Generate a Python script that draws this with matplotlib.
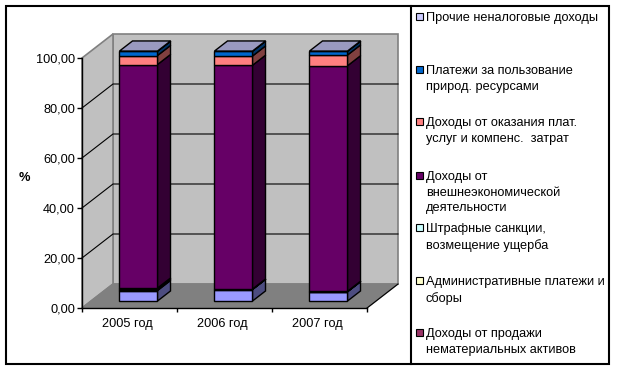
import matplotlib
matplotlib.use("Agg")
import matplotlib.pyplot as plt
from matplotlib.patches import Polygon, Rectangle
from matplotlib.ticker import FuncFormatter
from matplotlib.transforms import ScaledTranslation

plt.rcParams['font.family'] = ['Liberation Sans', 'DejaVu Sans']

W, H = 619, 369
FS = 12.7 * 72 / 100

years = ['2005 год', '2006 год', '2007 год']

# stacked series, bottom to top (% of total)
other_income = [4.2, 4.6, 3.7]
intangibles = [0.4, 0.1, 0.1]
admin_fees = [0.3, 0.05, 0.05]
fines = [0.3, 0.05, 0.05]
foreign_trade = [89.4, 89.5, 90.2]
services = [3.6, 3.7, 4.3]
natural_res = [1.7, 1.9, 1.5]
other_nontax = [0.1, 0.1, 0.1]

series = [other_income, intangibles, admin_fees, fines,
          foreign_trade, services, natural_res, other_nontax]
front_colors = ['#9999FF', '#993366', '#FFFFCC', '#CCFFFF',
                '#660066', '#FF8080', '#0066CC', '#CCCCFF']
side_colors = ['#4D4D80', '#4D1A33', '#808066', '#668080',
               '#330033', '#804040', '#003366', '#666680']
top_color = '#9999BF'

legend_labels = ['Прочие неналоговые доходы',
                 'Платежи за пользование\nприрод. ресурсами',
                 'Доходы от оказания плат.\nуслуг и компенс.  затрат',
                 'Доходы от\nвнешнеэкономической\nдеятельности',
                 'Штрафные санкции,\nвозмещение ущерба',
                 'Административные платежи и\nсборы',
                 'Доходы от продажи\nнематериальных активов']
legend_colors = ['#CCCCFF', '#0066CC', '#FF8080', '#660066',
                 '#CCFFFF', '#FFFFCC', '#993366']
legend_y = [17, 70, 122, 176, 228, 281, 333]

fig = plt.figure(figsize=(W / 100, H / 100), dpi=100, facecolor='white')

def fig_rect(x0, y0, x1, y1):
    return [x0 / W, 1 - y1 / H, (x1 - x0) / W, (y1 - y0) / H]

# main plot: front plane of the 3D box
ax = fig.add_axes(fig_rect(82, 58, 367, 308))
ax.set_xlim(0, 3)
ax.set_ylim(0, 100)
ax.patch.set_alpha(0)

DX = 31 / 95   # box depth in x units
DY = 24 / 2.5  # box depth in y units

def P(x, y, d):
    return (x + DX * d, y + DY * d)

def poly(points, fc, ec='black', lw=1.0, z=2, ls='-'):
    ax.add_patch(Polygon(points, closed=True, facecolor=fc, edgecolor=ec,
                         linewidth=lw, zorder=z, clip_on=False,
                         joinstyle='miter', linestyle=ls))

# walls and floor
poly([P(0, 0, 1), P(3, 0, 1), P(3, 100, 1), P(0, 100, 1)], '#C0C0C0', '#808080', 1.2, 1)
poly([P(0, 0, 0), P(0, 0, 1), P(0, 100, 1), P(0, 100, 0)], '#C0C0C0', '#808080', 1.2, 1)
poly([P(0, 0, 0), P(3, 0, 0), P(3, 0, 1), P(0, 0, 1)], '#808080', '#808080', 1.0, 1)

# gridlines
for v in [20, 40, 60, 80]:
    a, b, c = P(0, v, 0), P(0, v, 1), P(3, v, 1)
    ax.plot([a[0], b[0], c[0]], [a[1], b[1], c[1]], color='black', lw=0.8,
            zorder=1.5, clip_on=False)
a, b = P(3, 0, 0), P(3, 0, 1)
ax.plot([a[0], b[0]], [a[1], b[1]], color='black', lw=0.8, zorder=1.5, clip_on=False)

# bars
BW = 0.4
D0, D1 = 0.29, 0.71
for i in range(len(years)):
    x0, x1 = i + 0.5 - BW / 2, i + 0.5 + BW / 2
    bottom = 0.0
    for s, fc, sc in zip(series, front_colors, side_colors):
        top = bottom + s[i]
        poly([P(x1, bottom, D0), P(x1, bottom, D1), P(x1, top, D1), P(x1, top, D0)], sc, z=3)
        poly([P(x0, bottom, D0), P(x1, bottom, D0), P(x1, top, D0), P(x0, top, D0)], fc, z=3)
        bottom = top
    poly([P(x0, bottom, D0), P(x1, bottom, D0), P(x1, bottom, D1), P(x0, bottom, D1)], top_color, z=3)

# axes
for sp in ['top', 'right']:
    ax.spines[sp].set_visible(False)
for sp in ['left', 'bottom']:
    ax.spines[sp].set_linewidth(1.0)
    ax.spines[sp].set_zorder(5)
ax.set_yticks([0, 20, 40, 60, 80, 100])
ax.yaxis.set_major_formatter(FuncFormatter(lambda v, _: f'{v:.2f}'.replace('.', ',')))
ax.set_xticks([0, 1, 2, 3])
ax.set_xticklabels([])
ax.set_xticks([0.5, 1.5, 2.5], minor=True)
ax.set_xticklabels(years, minor=True, fontsize=FS)
ax.tick_params(axis='x', which='major', length=3, width=1.0)
ax.tick_params(axis='x', which='minor', length=0, pad=7.5)
ax.tick_params(axis='y', length=3.5, width=1.0, pad=1.5, labelsize=FS)
shift = ScaledTranslation(-2 / 100, 0, fig.dpi_scale_trans)
for t in ax.get_xticklabels(minor=True):
    t.set_transform(t.get_transform() + shift)
ax.set_ylabel('%', rotation=0, fontsize=FS, fontweight='bold')
ax.yaxis.set_label_coords((24 - 82) / 285, (308 - 184) / 250)

# frame and legend (overlay in pixel coordinates)
ov = fig.add_axes([0, 0, 1, 1], zorder=10)
ov.set_xlim(0, W)
ov.set_ylim(H, 0)
ov.axis('off')
ov.patch.set_alpha(0)
ov.add_patch(Rectangle((5.5, 5.5), 603, 358, fill=False, ec='black', lw=1.5))
ov.plot([410.5, 410.5], [5.5, 363.5], color='black', lw=1.5)
for lab, col, y in zip(legend_labels, legend_colors, legend_y):
    ov.add_patch(Rectangle((415.5, y - 4), 7, 7, fc=col, ec='black', lw=0.8))
    ov.text(426, y - 5, lab, fontsize=FS, va='top', ha='left', linespacing=1.4)

fig.savefig('out.png', dpi=100, facecolor='white')
